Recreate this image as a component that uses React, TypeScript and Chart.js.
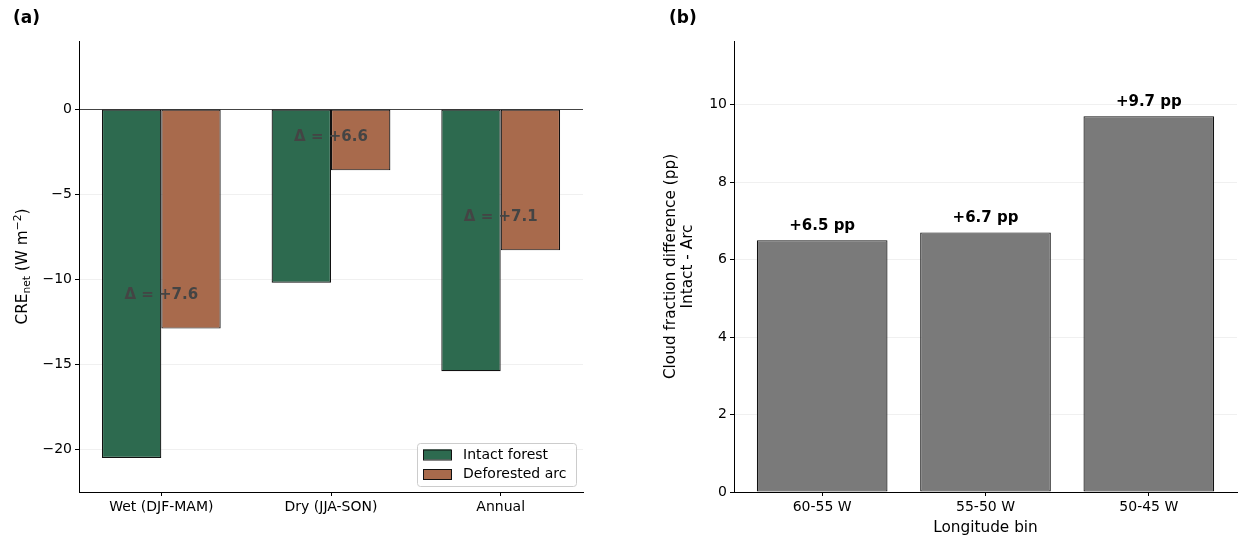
import React, { useEffect, useRef } from 'react';
import { Chart, registerables } from 'chart.js';

Chart.register(...registerables);

// ---------- data ----------
const seasons = ['Wet (DJF-MAM)', 'Dry (JJA-SON)', 'Annual'];
const intactCRE = [-20.5, -10.2, -15.4];
const arcCRE = [-12.9, -3.6, -8.3];
const creTicks = [-20, -15, -10, -5, 0];

const lonBins = ['60-55 W', '55-50 W', '50-45 W'];
const cloudDiff = [6.5, 6.7, 9.7];
const cloudTicks = [0, 2, 4, 6, 8, 10];

// ---------- style ----------
const FONT = "'DejaVu Sans', sans-serif";
const GREEN = '#2d6a4f';
const BROWN = '#a86a4c';
const GREY = '#7a7a7a';
const EDGE = '#111111';
const GRID = 'rgba(0,0,0,0.08)';
const TICK_FONT = { family: FONT, size: 14 };
const BAR_BORDER = 1.2;

const fmtNum = (v: number) => (v < 0 ? '\u2212' + Math.abs(v) : String(v));

const panelAPlugin = {
  id: 'panelA',
  afterDraw(chart: any) {
    const ctx = chart.ctx;
    const xs = chart.scales.x;
    const ys = chart.scales.y;
    ctx.save();
    // delta annotations
    ctx.font = `bold 15px ${FONT}`;
    ctx.fillStyle = '#444444';
    ctx.textAlign = 'center';
    ctx.textBaseline = 'middle';
    seasons.forEach((_, i) => {
      const d = arcCRE[i] - intactCRE[i];
      const txt = `\u0394 = ${d >= 0 ? '+' : '\u2212'}${Math.abs(d).toFixed(1)}`;
      ctx.fillText(txt, xs.getPixelForValue(i), ys.getPixelForValue(arcCRE[i] + 2) + 1);
    });

    // legend
    const bx = 417.5, by = 443.5, bw = 159, bh = 43, r = 3;
    ctx.beginPath();
    ctx.moveTo(bx + r, by);
    ctx.lineTo(bx + bw - r, by);
    ctx.arcTo(bx + bw, by, bx + bw, by + r, r);
    ctx.lineTo(bx + bw, by + bh - r);
    ctx.arcTo(bx + bw, by + bh, bx + bw - r, by + bh, r);
    ctx.lineTo(bx + r, by + bh);
    ctx.arcTo(bx, by + bh, bx, by + bh - r, r);
    ctx.lineTo(bx, by + r);
    ctx.arcTo(bx, by, bx + r, by, r);
    ctx.closePath();
    ctx.fillStyle = 'rgba(255,255,255,0.8)';
    ctx.fill();
    ctx.strokeStyle = '#cccccc';
    ctx.lineWidth = 1;
    ctx.stroke();
    const items = chart.data.datasets.map((ds: any) => ({ label: ds.label, color: ds.backgroundColor }));
    const rows = [454.5, 474];
    items.forEach((it: any, k: number) => {
      const cy = rows[k];
      ctx.fillStyle = it.color;
      ctx.fillRect(423, cy - 5, 28, 10);
      ctx.strokeStyle = EDGE;
      ctx.lineWidth = 1;
      ctx.strokeRect(423.5, cy - 4.5, 28, 10);
      ctx.fillStyle = '#000';
      ctx.font = `14px ${FONT}`;
      ctx.textAlign = 'left';
      ctx.textBaseline = 'middle';
      ctx.fillText(it.label, 463, cy + 0.5);
    });

    // y label with sub/superscript
    const big = 15.3, small = 10.7;
    const parts = [
      { t: 'CRE', s: big, dy: 0 },
      { t: 'net', s: small, dy: 3.5 },
      { t: ' (W m', s: big, dy: 0 },
      { t: '\u22122', s: small, dy: -6 },
      { t: ')', s: big, dy: 0 },
    ];
    let total = 0;
    parts.forEach((p) => {
      ctx.font = `${p.s}px ${FONT}`;
      total += ctx.measureText(p.t).width;
    });
    const cyA = (chart.chartArea.top + chart.chartArea.bottom) / 2;
    ctx.translate(21, cyA);
    ctx.rotate(-Math.PI / 2);
    ctx.fillStyle = '#000';
    ctx.textAlign = 'left';
    ctx.textBaseline = 'alphabetic';
    let px = -total / 2;
    parts.forEach((p) => {
      ctx.font = `${p.s}px ${FONT}`;
      ctx.fillText(p.t, px, 5.5 + p.dy);
      px += ctx.measureText(p.t).width;
    });
    ctx.restore();

    // panel label
    ctx.save();
    ctx.font = `bold 17px ${FONT}`;
    ctx.fillStyle = '#000';
    ctx.textAlign = 'left';
    ctx.textBaseline = 'middle';
    ctx.fillText('(a)', 13, 19);
    ctx.restore();
  },
};

const panelBPlugin = {
  id: 'panelB',
  afterDraw(chart: any) {
    const ctx = chart.ctx;
    const xs = chart.scales.x;
    const ys = chart.scales.y;
    const area = chart.chartArea;
    ctx.save();
    ctx.font = `bold 15px ${FONT}`;
    ctx.fillStyle = '#000';
    ctx.textAlign = 'center';
    ctx.textBaseline = 'bottom';
    cloudDiff.forEach((v, i) => {
      ctx.fillText(`+${v.toFixed(1)} pp`, xs.getPixelForValue(i), ys.getPixelForValue(v + 0.2) + 1);
    });

    // x title
    ctx.font = `15.3px ${FONT}`;
    ctx.textBaseline = 'middle';
    ctx.fillText('Longitude bin', (area.left + area.right) / 2, 528);

    // y title (two lines)
    const cy = (area.top + area.bottom) / 2;
    ['Cloud fraction difference (pp)', 'Intact - Arc'].forEach((line, k) => {
      ctx.save();
      ctx.translate(49 + k * 17.5, cy);
      ctx.rotate(-Math.PI / 2);
      ctx.textAlign = 'center';
      ctx.textBaseline = 'middle';
      ctx.fillText(line, 0, 0);
      ctx.restore();
    });

    ctx.font = `bold 17px ${FONT}`;
    ctx.textAlign = 'left';
    ctx.textBaseline = 'middle';
    ctx.fillText('(b)', 47, 19);
    ctx.restore();
  },
};

function makeXScale(labels: string[], min: number, max: number) {
  return {
    type: 'linear',
    min,
    max,
    offset: false,
    afterBuildTicks: (s: any) => {
      s.ticks = labels.map((_, i) => ({ value: i }));
    },
    afterFit: (s: any) => {
      s.height = 48;
    },
    ticks: {
      callback: (v: any) => labels[v],
      font: TICK_FONT,
      color: '#000',
      padding: 3,
      maxRotation: 0,
      autoSkip: false,
    },
    grid: {
      offset: false,
      drawOnChartArea: false,
      drawTicks: true,
      tickLength: 4,
      tickColor: '#000',
      tickWidth: 1,
    },
    border: { color: '#000', width: 1 },
  };
}

function makeYScale(ticks: number[], min: number, max: number, width: number, zeroLine: boolean) {
  return {
    min,
    max,
    afterBuildTicks: (s: any) => {
      s.ticks = ticks.map((v) => ({ value: v }));
    },
    afterFit: (s: any) => {
      s.width = width;
    },
    ticks: {
      callback: (v: any) => fmtNum(v),
      font: TICK_FONT,
      color: '#000',
      padding: 3,
    },
    grid: {
      color: (c: any) => (zeroLine && c.tick && c.tick.value === 0 ? '#444444' : GRID),
      lineWidth: (c: any) => (zeroLine && c.tick && c.tick.value === 0 ? 1 : 0.8),
      drawTicks: true,
      tickLength: 4,
      tickColor: '#000',
      tickWidth: 1,
    },
    border: { color: '#000', width: 1 },
  };
}

function ChartA() {
  const ref = useRef<HTMLCanvasElement>(null);
  useEffect(() => {
    const chart = new Chart(ref.current as HTMLCanvasElement, {
      type: 'bar',
      data: {
        datasets: [
          {
            label: 'Intact forest',
            data: intactCRE.map((v, i) => ({ x: i, y: v })),
            backgroundColor: GREEN,
            borderColor: EDGE,
            borderWidth: BAR_BORDER,
            borderSkipped: false,
            categoryPercentage: 0.7,
            barPercentage: 1,
          },
          {
            label: 'Deforested arc',
            data: arcCRE.map((v, i) => ({ x: i, y: v })),
            backgroundColor: BROWN,
            borderColor: EDGE,
            borderWidth: BAR_BORDER,
            borderSkipped: false,
            categoryPercentage: 0.7,
            barPercentage: 1,
          },
        ],
      } as any,
      options: {
        responsive: false,
        animation: false,
        layout: { padding: { left: 0, right: 39, top: 41, bottom: 0 } },
        plugins: { legend: { display: false }, tooltip: { enabled: false } },
        scales: {
          x: makeXScale(seasons, -0.485, 2.485),
          y: makeYScale(creTicks, -22.5, 4, 79, true),
        } as any,
      },
      plugins: [panelAPlugin],
    });
    return () => chart.destroy();
  }, []);
  return <canvas ref={ref} width={622} height={540} style={{ position: 'absolute', left: 0, top: 0 }} />;
}

function ChartB() {
  const ref = useRef<HTMLCanvasElement>(null);
  useEffect(() => {
    const chart = new Chart(ref.current as HTMLCanvasElement, {
      type: 'bar',
      data: {
        datasets: [
          {
            label: 'Cloud fraction difference',
            data: cloudDiff.map((v, i) => ({ x: i, y: v })),
            backgroundColor: GREY,
            borderColor: EDGE,
            borderWidth: BAR_BORDER,
            borderSkipped: false,
            categoryPercentage: 0.8,
            barPercentage: 1,
          },
        ],
      } as any,
      options: {
        responsive: false,
        animation: false,
        layout: { padding: { left: 0, right: 7, top: 41, bottom: 0 } },
        plugins: { legend: { display: false }, tooltip: { enabled: false } },
        scales: {
          x: makeXScale(lonBins, -0.54, 2.54),
          y: makeYScale(cloudTicks, 0, 11.64, 112, false),
        } as any,
      },
      plugins: [panelBPlugin],
    });
    return () => chart.destroy();
  }, []);
  return <canvas ref={ref} width={622} height={540} style={{ position: 'absolute', left: 622, top: 0 }} />;
}

export default function App() {
  return (
    <div style={{ position: 'fixed', left: 0, top: 0, width: 1244, height: 540, background: '#fff' }}>
      <ChartA />
      <ChartB />
    </div>
  );
}
